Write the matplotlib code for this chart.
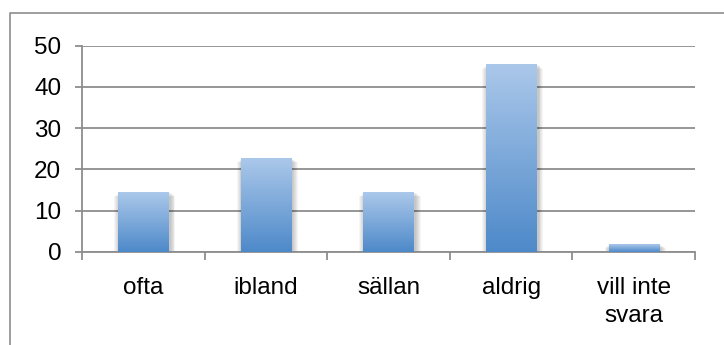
import numpy as np
import matplotlib
matplotlib.use("Agg")
import matplotlib.pyplot as plt
from matplotlib.colors import LinearSegmentedColormap
from matplotlib.lines import Line2D
from matplotlib.patches import Rectangle

plt.rcParams['font.family'] = ['Liberation Sans', 'DejaVu Sans']

categories = ['ofta', 'ibland', 'sällan', 'aldrig', 'vill inte\nsvara']
values = [14.5, 22.7, 14.5, 45.5, 1.9]
yticks = [0, 10, 20, 30, 40, 50]

grid_col = '#8e8e8e'
bar_cmap = LinearSegmentedColormap.from_list('excel_blue', ['#4d89c9', '#abc8ea'])

fig = plt.figure(figsize=(7.24, 3.45), dpi=100)
ax = fig.add_axes([82 / 724, 1 - 251.7 / 345, (695 - 82) / 724, (251.7 - 45.7) / 345])

# outer chart frame (left and top edges only are visible)
fy = 1 - 12.5 / 345
fx = 10 / 724
fig.add_artist(Line2D([fx, fx, 1.0], [0.0, fy, fy], transform=fig.transFigure,
                      color='#8c8c8c', lw=1.2))

width = 0.41
x = np.arange(len(categories))
grad = np.linspace(0, 1, 256).reshape(-1, 1)

# pixel size in data units, used for the soft shadow
px_x = 5 / 613
px_y = 50 / 206

for xi, v in zip(x, values):
    x0, x1 = xi - width / 2, xi + width / 2
    # soft drop shadow, mostly on the sides
    for k in range(1, 7):
        d = k * 0.9
        ax.add_patch(Rectangle((x0 - d * px_x + 1.5 * px_x, 0), (x1 - x0) + 2 * d * px_x,
                               max(v - d * px_y * 0.8, 0), facecolor='#000000',
                               edgecolor='none', alpha=0.04, zorder=2.5))
    ax.imshow(grad, cmap=bar_cmap, origin='lower', extent=[x0, x1, 0, v],
              aspect='auto', zorder=3, interpolation='bilinear')

ax.set_xlim(-0.5, len(categories) - 0.5)
ax.set_ylim(0, 50)
ax.set_aspect('auto')

ax.set_yticks(yticks)
ax.set_yticklabels([str(t) for t in yticks])
ax.set_xticks(x)
ax.set_xticklabels(categories, linespacing=1.4)
ax.set_xticks(np.arange(-0.5, len(categories)), minor=True)

ax.yaxis.grid(True, color=grid_col, lw=1.3, zorder=1)
ax.set_axisbelow(True)

for s in ['top', 'right']:
    ax.spines[s].set_visible(False)
ax.spines['left'].set_color(grid_col)
ax.spines['bottom'].set_color(grid_col)
ax.spines['left'].set_linewidth(1.3)
ax.spines['bottom'].set_linewidth(1.3)

ax.tick_params(axis='y', which='major', length=5, width=1.3, color=grid_col,
               labelsize=17.5, pad=10)
ax.tick_params(axis='x', which='major', length=0, labelsize=17.5, pad=18)
ax.tick_params(axis='x', which='minor', length=6, width=1.3, color=grid_col)

fig.savefig('out.png', dpi=100)
